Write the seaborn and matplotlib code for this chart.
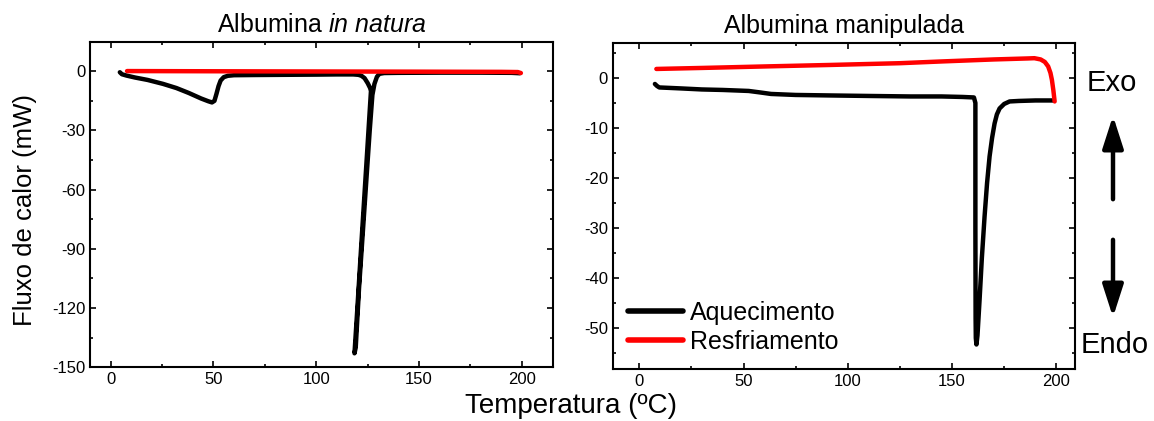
import matplotlib
matplotlib.use("Agg")
import matplotlib.pyplot as plt
from matplotlib.ticker import MultipleLocator
from matplotlib.patches import FancyArrowPatch
import seaborn as sns
import pandas as pd

# ---------------- data ----------------
# Albumina in natura - heating (Aquecimento)
nat_heat_T = [4.5, 5.5, 7.8, 12, 18, 25.5, 32, 38, 44, 47.5, 49.3, 50.5, 51.5, 52.5, 53.5, 55, 57, 60,
              70, 85, 100, 110, 118, 120.5, 122, 123.5, 125, 126.2, 126.6, 124.5, 121.9, 120, 118.9, 118.6,
              119.2, 120.8, 123.4, 126.0, 127.3, 128.3, 129.5, 130.7, 133, 140, 160, 180, 195, 199]
nat_heat_Y = [-0.5, -1.5, -2.2, -3.2, -4.4, -6.4, -8.5, -11, -13.8, -15.2, -15.8, -15, -11.4, -7.5, -4.7, -3, -2.3, -2.0,
              -1.9, -1.8, -1.7, -1.6, -1.6, -1.8, -2.3, -3.5, -6, -8.5, -10, -45, -88, -120, -138, -143,
              -140, -110, -70, -30, -12, -6.4, -2.8, -1.3, -0.9, -0.8, -0.7, -0.7, -0.8, -1.0]
# Albumina in natura - cooling (Resfriamento)
nat_cool_T = [8, 50, 100, 150, 190, 198, 199.5]
nat_cool_Y = [0.1, 0.0, -0.1, -0.2, -0.3, -0.4, -0.9]

# Albumina manipulada - heating
man_heat_T = [7.5, 8.5, 9.6, 15, 20.3, 30, 40, 52.5, 58, 63.2, 75, 91.7, 110, 130, 145, 155, 160.5, 161.2, 161.2,
              161.3, 161.4, 161.7, 162.2, 163.2, 164.3, 165.6, 166.8, 168, 169.2, 170.4, 171.5, 172.8, 175,
              177.6, 182, 190, 198.4]
man_heat_Y = [-1.2, -1.6, -1.9, -2.0, -2.1, -2.3, -2.4, -2.6, -2.9, -3.2, -3.4, -3.5, -3.6, -3.7, -3.7, -3.8, -3.9, -5, -30,
              -48, -52, -53.3, -51.5, -44.4, -36, -27.7, -21, -15.7, -12, -9.1, -7.3, -6.1, -5.2,
              -4.7, -4.6, -4.5, -4.5]
# Albumina manipulada - cooling
man_cool_T = [8.2, 30, 60, 91.7, 125, 145, 170, 186.3, 189.5, 192.5, 194.5, 196.1, 197.2, 197.9, 198.6, 199.2]
man_cool_Y = [1.8, 2.0, 2.3, 2.6, 2.95, 3.3, 3.7, 3.9, 3.95, 3.7, 3.2, 2.3, 1.0, -0.4, -2.5, -4.7]

titles = ["Albumina $\\mathit{in\\ natura}$", "Albumina manipulada"]
series_names = ["Aquecimento", "Resfriamento"]
xlabel = "Temperatura (ºC)"
ylabel = "Fluxo de calor (mW)"

# ---------------- style ----------------
sns.set_theme(style="ticks")
plt.rcParams["font.family"] = ["Liberation Sans", "DejaVu Sans"]
plt.rcParams["mathtext.fontset"] = "custom"
plt.rcParams["mathtext.rm"] = "Liberation Sans"
plt.rcParams["mathtext.it"] = "Liberation Sans:italic"
plt.rcParams["axes.unicode_minus"] = False
plt.rcParams["text.color"] = "black"
plt.rcParams["axes.labelcolor"] = "black"
plt.rcParams["xtick.color"] = "black"
plt.rcParams["ytick.color"] = "black"

fig = plt.figure(figsize=(11.54, 4.21), dpi=100)
ax1 = fig.add_axes([0.078, 0.128, 0.401, 0.773])
ax2 = fig.add_axes([0.531, 0.1235, 0.4006, 0.7745])

colors = {"Aquecimento": "black", "Resfriamento": "#ff0000"}

def frame(T, Y, name):
    return pd.DataFrame({"T": T, "Y": Y, "serie": name})

d1 = pd.concat([frame(nat_heat_T, nat_heat_Y, series_names[0]),
                frame(nat_cool_T, nat_cool_Y, series_names[1])])
d2 = pd.concat([frame(man_heat_T, man_heat_Y, series_names[0]),
                frame(man_cool_T, man_cool_Y, series_names[1])])

for ax, d, leg in [(ax1, d1, False), (ax2, d2, True)]:
    sns.lineplot(data=d, x="T", y="Y", hue="serie", palette=colors, sort=False,
                 estimator=None, lw=3.2, ax=ax, legend=leg,
                 solid_capstyle="round", solid_joinstyle="round")
    ax.set_xlabel("")
    ax.set_ylabel("")
    for s in ax.spines.values():
        s.set_linewidth(1.5)
        s.set_color("black")
    ax.tick_params(which="both", direction="in", top=True, right=True,
                   labelsize=12, colors="black", width=1.2)
    ax.tick_params(which="major", length=4)
    ax.tick_params(which="minor", length=2.5)
    ax.xaxis.set_major_locator(MultipleLocator(50))
    ax.xaxis.set_minor_locator(MultipleLocator(25))

ax1.set_xlim(-10, 215)
ax1.set_ylim(-150, 15)
ax1.yaxis.set_major_locator(MultipleLocator(30))
ax1.yaxis.set_minor_locator(MultipleLocator(15))

ax2.set_xlim(-12.7, 209)
ax2.set_ylim(-58.2, 7)
ax2.yaxis.set_major_locator(MultipleLocator(10))
ax2.yaxis.set_minor_locator(MultipleLocator(5))

ax1.set_title(titles[0], fontsize=18, pad=7, color="black")
ax2.set_title(titles[1], fontsize=18, pad=7, color="black")

leg = ax2.legend(loc="lower left", bbox_to_anchor=(0.0, 0.0), frameon=False, fontsize=18,
                 handlelength=2.2, handletextpad=0.3, labelspacing=0.2, borderaxespad=0.2)
for h in leg.get_lines():
    h.set_linewidth(4)

fig.text(0.022, 1 - 210 / 421, ylabel, rotation=90, fontsize=18.5, ha="center", va="center")
fig.text(0.495, 1 - 406 / 421, xlabel, fontsize=20, ha="center", va="center")

# Exo / Endo indication
fig.text(0.9636, 1 - 83 / 421, "Exo", fontsize=21, ha="center", va="center")
fig.text(0.966, 1 - 345 / 421, "Endo", fontsize=21, ha="center", va="center")
astyle = "-|>,head_length=1.4,head_width=0.45"
fig.add_artist(FancyArrowPatch(
    (1113 / 1154, 1 - 202 / 421), (1113 / 1154, 1 - 113 / 421), transform=fig.transFigure,
    arrowstyle=astyle, lw=3.2, color="black", mutation_scale=14))
fig.add_artist(FancyArrowPatch(
    (1113 / 1154, 1 - 237 / 421), (1113 / 1154, 1 - 320 / 421), transform=fig.transFigure,
    arrowstyle=astyle, lw=3.2, color="black", mutation_scale=14))

fig.savefig("out.png", dpi=100)
